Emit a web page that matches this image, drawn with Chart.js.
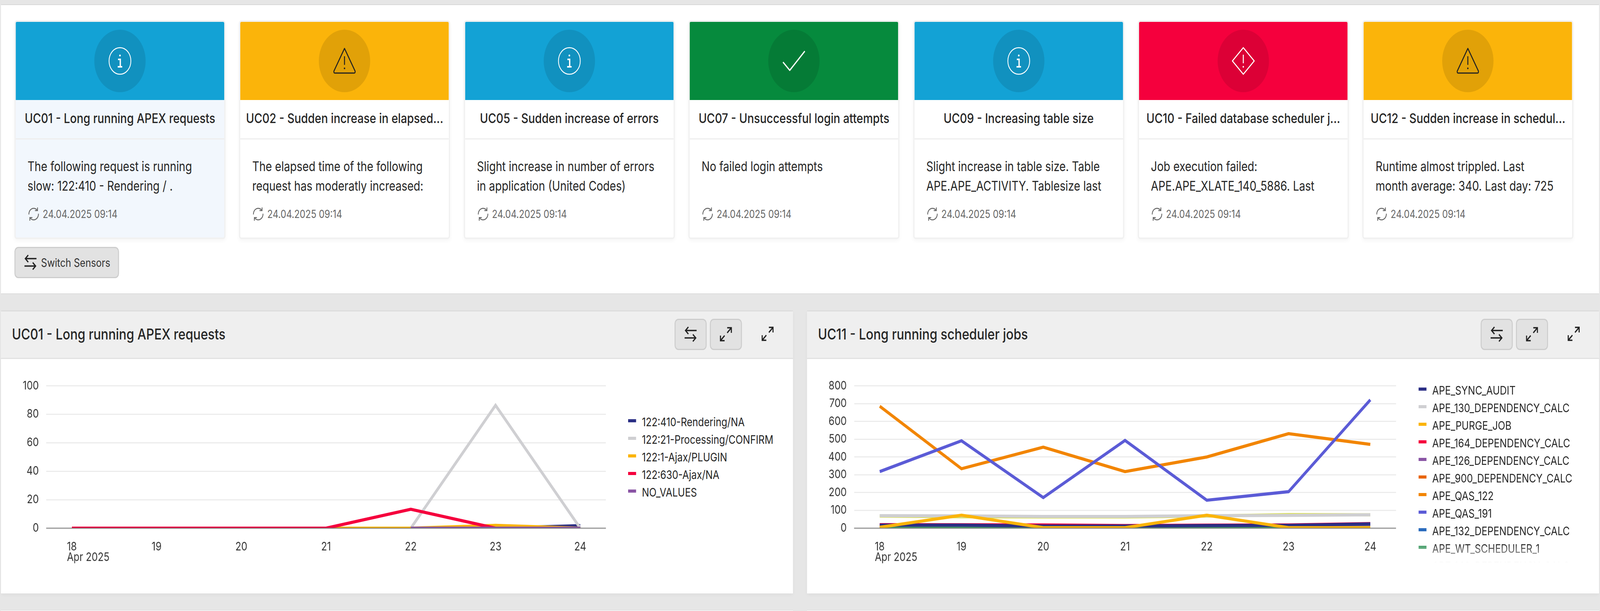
<!DOCTYPE html>
<html>
<head>
<meta charset="utf-8">
<script src="https://cdn.jsdelivr.net/npm/chart.js@4/dist/chart.umd.min.js"></script>
<style>
html, body { margin: 0; padding: 0; overflow: hidden; background: #e6e6e6; }
#stage { position: absolute; left: 0; top: 0; width: 4988px; height: 1564px; overflow: hidden; background: #e6e6e6; font-family: Inter, sans-serif; color: #262626; transform-origin: 0 0; }
.box { position: absolute; box-sizing: border-box; }
.top { left: 3px; top: 11px; width: 4982px; height: 742px; background: #fff; border-top: 2px solid #d9d9d9; border-bottom: 2px solid #dcdcdc; }
.card { position: absolute; top: 39px; width: 658px; height: 560px; box-sizing: border-box; background: #fff; border: 4px solid #f1f1f1; border-radius: 8px; box-shadow: 0 6px 10px rgba(0,0,0,.03); overflow: hidden; }
.card.sel, .card.sel .ttl { background: #f2f7fd; }
.band { position: absolute; left: 0; right: 0; top: 0; height: 200px; }
.disc { position: absolute; left: 50%; top: 20px; width: 160px; height: 160px; margin-left: -80px; border-radius: 50%; background: rgba(0,0,0,.1); }
.disc svg { position: absolute; left: 44px; top: 44px; width: 72px; height: 72px; }
.ttl { position: absolute; left: 0; right: 0; top: 200px; height: 101px; line-height: 94px; border-bottom: 3px solid #eee; box-sizing: border-box; text-align: center; font-size: 34.5px; font-weight: 500; white-space: nowrap; }
.txt { position: absolute; left: 37px; top: 345px; font-size: 33.8px; line-height: 49.5px; white-space: nowrap; }
.stamp { position: absolute; left: 37px; top: 474px; height: 36px; line-height: 36px; font-size: 28px; color: #666; white-space: nowrap; padding-left: 47px; }
.stamp svg { position: absolute; left: 0; top: 0; width: 38px; height: 36px; }
.btn { position: absolute; box-sizing: border-box; background: #e2e2e2; border: 3px solid #cdcdcd; border-radius: 12px; }
.swbtn { left: 42px; top: 619px; width: 326px; height: 80px; font-size: 29.5px; line-height: 74px; padding-left: 80px; color: #333; }
.swbtn svg { position: absolute; left: 28px; top: 17px; width: 38px; height: 39px; }
.panel { top: 795px; width: 2469px; height: 724px; background: #fff; border-top: 2px solid #d9d9d9; box-shadow: 0 4px 10px rgba(0,0,0,.04); }
.phead { position: absolute; left: 0; right: 0; top: 0; height: 122px; background: #efefef; border-bottom: 3px solid #e2e2e2; box-sizing: border-box; }
.phead h2 { margin: 0; position: absolute; left: 34px; top: 36px; font-size: 38.7px; line-height: 44px; font-weight: 500; white-space: nowrap; }
.phead .btn { top: 19px; width: 100px; height: 80px; }
.phead svg { position: absolute; width: 38px; height: 39px; }
.chartbox { position: absolute; left: 0; top: 120px; width: 2469px; height: 536px; }
.legend { position: absolute; white-space: nowrap; overflow: hidden; font-size: 30px; line-height: 45px; color: #262626; }
.legend div { position: relative; height: 45px; padding-left: 43px; }
.legend i { position: absolute; left: 0; top: 15px; width: 25px; height: 8px; }
.fade { -webkit-mask-image: linear-gradient(#000 90%, rgba(0,0,0,.55) 95%, rgba(0,0,0,.15) 99%, transparent 100%); mask-image: linear-gradient(#000 90%, rgba(0,0,0,.55) 95%, rgba(0,0,0,.15) 99%, transparent 100%); }
</style>
</head>
<body>
<div id="stage">
<div class="box top" id="top"></div>
<div class="box panel" id="p1" style="left:3px"></div>
<div class="box panel" id="p2" style="left:2516px"></div>
<div class="box" style="left:3px;top:1561px;width:2469px;height:3px;background:#f4f4f4;border-top:1px solid #d9d9d9"></div>
<div class="box" style="left:2516px;top:1561px;width:2469px;height:3px;background:#f4f4f4;border-top:1px solid #d9d9d9"></div>
</div>
<script>
// the browser window can come up narrower than the 4988 wide layout, so fit the stage to it
const stage = document.getElementById('stage');
stage.style.transform = `scale(${window.innerWidth / 4988}, ${window.innerHeight / 1564})`;

// cards
const cardTitles = ['UC01 - Long running APEX requests', 'UC02 - Sudden increase in elapsed...', 'UC05 - Sudden increase of errors', 'UC07 - Unsuccessful login attempts', 'UC09 - Increasing table size', 'UC10 - Failed database scheduler j...', 'UC12 - Sudden increase in schedul...'];
const cardLines = [
    ['The following request is running', 'slow: 122:410 - Rendering / .'],
    ['The elapsed time of the following', 'request has moderatly increased:'],
    ['Slight increase in number of errors', 'in application (United Codes)'],
    ['No failed login attempts'],
    ['Slight increase in table size. Table', 'APE.APE_ACTIVITY. Tablesize last'],
    ['Job execution failed:', 'APE.APE_XLATE_140_5886. Last'],
    ['Runtime almost trippled. Last', 'month average: 340. Last day: 725']
];
const cardKinds = ['info', 'warn', 'info', 'ok', 'info', 'fail', 'warn'];
const cardStamp = '24.04.2025 09:14';

// UC01 chart
const days = [18, 19, 20, 21, 22, 23, 24];
const monthLabel = 'Apr 2025';
const requestNames = ['122:410-Rendering/NA', '122:21-Processing/CONFIRM', '122:1-Ajax/PLUGIN', '122:630-Ajax/NA', 'NO_VALUES'];
const rendering = [null, null, null, null, 0, 0, 1.8];
const processing = [null, null, null, null, 0, 86.3, 0];
const ajaxPlugin = [0, 0, 0, 0, 0, 2, 0];
const ajaxNa = [0, 0, 0, 0, 13.3, 0, null];
const noValues = [null, null, null, null, 0, 0, 0];
const requestTicks = [0, 20, 40, 60, 80, 100];

// UC11 chart
const jobNames = ['APE_SYNC_AUDIT', 'APE_130_DEPENDENCY_CALC', 'APE_PURGE_JOB', 'APE_164_DEPENDENCY_CALC', 'APE_126_DEPENDENCY_CALC', 'APE_900_DEPENDENCY_CALC', 'APE_QAS_122', 'APE_QAS_191', 'APE_132_DEPENDENCY_CALC', 'APE_WT_SCHEDULER_1', 'APE_140_DEPENDENCY_CALC'];
const syncAudit = [17, 17, 12, 12, 15, 16, 24];
const dep130 = [70, 69, 66, 66, 70, 72, 75];
const purgeJob = [5, 73, 3, 3, 73, 3, 3];
const dep164 = [20, 19, 18, 15, 17, 18, 26];
const dep126 = [6, 5, 3, 2, 3, 3, 10];
const dep900 = [0, 0, 0, 0, 0, 0, 0];
const qas122 = [685, 334, 455, 318, 400, 531, 471];
const qas191 = [318, 491, 172, 493, 157, 205, 721];
const dep132 = [2, 1, 0, 0, 1, 1, 1];
const wtScheduler = [5, 5, 4, 3, 5, 0, 4];
const dep140 = [68, 64, 63, 63, 68, 76, 75];
const jobTicks = [0, 100, 200, 300, 400, 500, 600, 700, 800];

const palette = ['#2b2f85', '#cfcfd2', '#fbb40a', '#f5003d', '#8a55a5', '#e8650a', '#f28500', '#5b5bd6', '#2a6bbd', '#3f9a63', '#dbe04e'];
// lower is painted later, the way the original stacks its lines
const requestLayers = [5, 4, 3, 2, 1];
const jobLayers = [5, 4, 1, 10, 8, 9, 3, 2, 7, 6, 11];

const icons = {
    info: '<svg viewBox="0 0 72 72" fill="none" stroke="#fff" stroke-width="2.5"><circle cx="36" cy="36" r="34"/><circle cx="36" cy="22" r="2.6" fill="#fff" stroke="none"/><path d="M30 32h7v19M29 51h14" stroke-width="4"/></svg>',
    warn: '<svg viewBox="0 0 72 72" fill="none" stroke="#222" stroke-width="3" stroke-linejoin="round"><path d="M36 4L69 62Q70 67 66 67H6Q2 67 3 62Z"/><path d="M36 24V46"/><circle cx="36" cy="55" r="2.2" fill="#222" stroke="none"/></svg>',
    ok: '<svg viewBox="0 0 72 72" fill="none" stroke="#fff" stroke-width="3.5" stroke-linejoin="round"><path d="M2 39L23 60L70 11"/></svg>',
    fail: '<svg viewBox="0 0 72 72" fill="none" stroke="#fff" stroke-width="3" stroke-linejoin="round"><path d="M36 2L70 36L36 70L2 36Z"/><path d="M36 20V42"/><circle cx="36" cy="51" r="2.2" fill="#fff" stroke="none"/></svg>',
    refresh: '<svg viewBox="0 0 38 36" fill="none" stroke="#666" stroke-width="2.5"><path d="M4 19A15 15 0 0 1 30 8M34 17A15 15 0 0 1 8 28"/><path d="M31 1V9H23M7 35V27H15"/></svg>',
    swap: '<svg viewBox="0 0 38 39" fill="none" stroke="#222" stroke-width="3.5"><path d="M38 10H3M12 1L3 10L12 19M0 29H35M26 20L35 29L26 38"/></svg>',
    expand: '<svg viewBox="0 0 38 39" fill="none" stroke="#222" stroke-width="3.5"><path d="M23 3H36V16M36 3L23 16M2 23V36H15M2 36L15 23"/></svg>'
};
const bandColors = { info: '#13a2d5', warn: '#fbb40a', ok: '#068a3d', fail: '#f5003d' };

let cardsHtml = '';
cardTitles.forEach((title, i) => {
    const kind = cardKinds[i];
    cardsHtml += `<div class="card${i === 0 ? ' sel' : ''}" style="left:${42 + i * 700.4}px">
        <div class="band" style="background:${bandColors[kind]}"><div class="disc">${icons[kind]}</div></div>
        <div class="ttl">${title}</div>
        <div class="txt">${cardLines[i].join('<br>')}</div>
        <div class="stamp">${icons.refresh}${cardStamp}</div></div>`;
});
cardsHtml += `<div class="btn swbtn">${icons.swap}Switch Sensors</div>`;
document.getElementById('top').innerHTML = cardsHtml;

function placeIcon(icon, x, y) { return icon.replace('<svg', `<svg style="left:${x}px;top:${y}px"`); }

function buildPanel(id, title, names, legendLeft, legendTop, fade) {
    const rows = names.map((n, i) => `<div><i style="background:${palette[i]}"></i>${n}</div>`).join('');
    document.getElementById(id).innerHTML = `<div class="phead"><h2>${title}</h2>
        <div class="btn" style="right:269px">${placeIcon(icons.swap, 28, 17)}</div>
        <div class="btn" style="right:159px">${placeIcon(icons.expand, 28, 17)}</div>
        ${placeIcon(icons.expand, 2371, 38)}</div>
        <div class="chartbox"><canvas id="${id}c"></canvas></div>
        <div class="legend${fade ? ' fade' : ''}" style="left:${legendLeft}px;top:${legendTop}px;height:${1440 - 797 - legendTop}px;width:540px">${rows}</div>`;
}

buildPanel('p1', 'UC01 - Long running APEX requests', requestNames, 1955, 261, false);
buildPanel('p2', 'UC11 - Long running scheduler jobs', jobNames, 1906, 180, true);

// first x label has the month under it, left aligned with the day
const monthPlugin = {
    id: 'monthLabel',
    afterDraw(chart) {
        const ctx = chart.ctx, x = chart.scales.x, px = x.getPixelForValue(days[0]);
        ctx.save();
        ctx.font = '30px Inter';
        ctx.fillStyle = '#333';
        ctx.textAlign = 'left';
        ctx.textBaseline = 'middle';
        const half = ctx.measureText(String(days[0])).width / 2;
        ctx.fillText(monthLabel, px - half, x.top + 75);
        ctx.restore();
    }
};
// the zero line sits over the series
const zeroLinePlugin = {
    id: 'zeroLine',
    afterDatasetsDraw(chart) {
        const ctx = chart.ctx, y = chart.scales.y.getPixelForValue(0), a = chart.chartArea;
        ctx.save();
        ctx.strokeStyle = 'rgba(110,110,110,.65)';
        ctx.lineWidth = 3;
        ctx.beginPath();
        ctx.moveTo(a.left, y);
        ctx.lineTo(a.right, y);
        ctx.stroke();
        ctx.restore();
    }
};

function makeChart(id, seriesList, names, layers, ticks, axisWidth, plotWidth, xPad) {
    const el = document.getElementById(id);
    el.width = plotWidth + axisWidth + 20;
    el.height = 536;
    return new Chart(el, {
        type: 'line',
        data: {
            datasets: seriesList.map((s, i) => ({
                label: names[i],
                data: s.map((v, j) => ({ x: days[j], y: v })),
                borderColor: palette[i],
                backgroundColor: palette[i],
                borderWidth: 8,
                pointRadius: 0,
                tension: 0,
                order: layers[i]
            }))
        },
        options: {
            responsive: false,
            animation: false,
            layout: { padding: { top: 70.5, right: 20, bottom: 0, left: 0 } },
            plugins: { legend: { display: false }, tooltip: { enabled: false } },
            scales: {
                x: {
                    type: 'linear', min: days[0] - xPad, max: days[days.length - 1] + xPad,
                    grid: { display: false }, border: { display: false },
                    afterFit(scale) { scale.height = 101; },
                    afterBuildTicks(scale) { scale.ticks = days.map(d => ({ value: d })); },
                    ticks: { autoSkip: false, maxRotation: 0, padding: 22, color: '#333', font: { family: 'Inter', size: 30 } }
                },
                y: {
                    min: ticks[0], max: ticks[ticks.length - 1],
                    border: { display: false },
                    grid: { color: '#ececec', lineWidth: 3, drawTicks: false },
                    afterFit(scale) { scale.width = axisWidth; },
                    afterBuildTicks(scale) { scale.ticks = ticks.map(t => ({ value: t })); },
                    ticks: { padding: 23, color: '#333', font: { family: 'Inter', size: 30 } }
                }
            }
        },
        plugins: [monthPlugin, zeroLinePlugin]
    });
}

document.fonts.ready.then(() => {
    makeChart('p1c', [rendering, processing, ajaxPlugin, ajaxNa, noValues], requestNames, requestLayers, requestTicks, 141, 1745, 0.303);
    makeChart('p2c', [syncAudit, dep130, purgeJob, dep164, dep126, dep900, qas122, qas191, dep132, wtScheduler, dep140], jobNames, jobLayers, jobTicks, 146.5, 1689.5, 0.314);
});
</script>
</body>
</html>
